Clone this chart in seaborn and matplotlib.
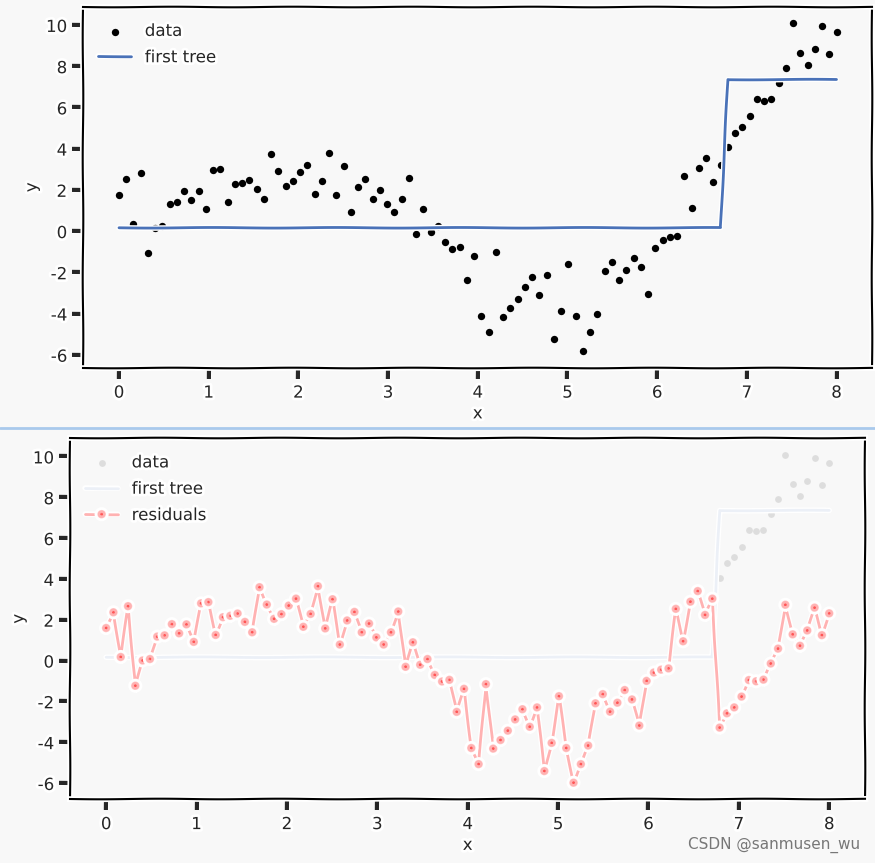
import numpy as np
import pandas as pd
import seaborn as sns
import matplotlib.pyplot as plt
from matplotlib.lines import Line2D

# 100 evenly spaced samples on [0, 8]
x = np.linspace(0, 8, 100)
y = [1.75, 2.52, 0.33, 2.82, -1.08, 0.16, 0.23, 1.33, 1.39, 1.94,
     1.49, 1.93, 1.07, 2.96, 3.02, 1.41, 2.28, 2.35, 2.46, 2.05,
     1.54, 3.75, 2.90, 2.20, 2.43, 2.85, 3.19, 1.81, 2.44, 3.80,
     1.73, 3.16, 0.94, 2.12, 2.54, 1.54, 1.97, 1.29, 0.94, 1.54,
     2.56, -0.15, 1.05, -0.05, 0.23, -0.55, -0.87, -0.79, -2.36, -1.23,
     -4.13, -4.92, -1.00, -4.16, -3.74, -3.28, -2.73, -2.23, -3.09, -2.14,
     -5.26, -3.88, -1.59, -4.13, -5.83, -4.92, -4.01, -1.94, -1.49, -2.35,
     -1.91, -1.29, -1.75, -3.03, -0.84, -0.43, -0.29, -0.23, 2.69, 1.10,
     3.04, 3.56, 2.39, 3.19, 4.06, 4.76, 5.05, 5.58, 6.39, 6.33,
     6.41, 7.20, 7.93, 10.08, 8.63, 8.07, 8.82, 9.94, 8.59, 9.66]

# depth-1 tree: split point and the two leaf values
tree_split = 6.75
tree_leaves = [0.16, 7.35]

df = pd.DataFrame({"x": x, "y": y})
df["tree"] = np.where(df["x"] < tree_split, tree_leaves[0], tree_leaves[1])
df["resid"] = df["y"] - df["tree"]

bg = "#f8f8f8"
sns.set_style("ticks")
plt.xkcd(scale=0.3, length=120, randomness=1)
plt.rcParams["font.family"] = ["DejaVu Sans"]
plt.rcParams["font.size"] = 12

fig = plt.figure(figsize=(8.75, 8.63), dpi=100, facecolor=bg)

# ---- top panel: data + first tree
ax1 = fig.add_axes([0.095, 0.574, 0.902, 0.418])
ax1.set_facecolor(bg)
sns.scatterplot(data=df, x="x", y="y", color="k", s=28, linewidth=0,
                label="data", ax=ax1)
sns.lineplot(data=df, x="x", y="tree", color="#4a72b8", lw=2,
             label="first tree", ax=ax1)

# ---- bottom panel: faded data/tree + residuals
ax2 = fig.add_axes([0.08, 0.074, 0.909, 0.418])
ax2.set_facecolor(bg)
sns.scatterplot(data=df, x="x", y="y", color="gray", s=24, linewidth=0,
                alpha=0.22, label="data", ax=ax2)
sns.lineplot(data=df, x="x", y="tree", color="#4a72b8", lw=2, alpha=0.1,
             label="first tree", ax=ax2)
sns.lineplot(data=df, x="x", y="resid", color="red", lw=2, alpha=0.3,
             marker="o", markersize=6, label="residuals", ax=ax2)

for ax in (ax1, ax2):
    ax.set_xticks(range(0, 9))
    ax.set_yticks(range(-6, 11, 2))
    ax.set_xlabel("x", fontsize=12, labelpad=2)
    ax.set_ylabel("y", fontsize=12)
    ax.tick_params(labelsize=12)
    ax.legend(loc="upper left", frameon=False, fontsize=12)

# separator between the two screenshots
sep = Line2D([0, 1], [0.504, 0.504], transform=fig.transFigure,
             color="#a9c9ec", lw=2)
sep.set_sketch_params(None)
sep.set_path_effects([])
fig.add_artist(sep)

fig.text(0.983, 0.012, "CSDN @sanmusen_wu", ha="right", va="bottom",
         color="#777777", fontsize=11, path_effects=[])

fig.savefig("out.png", dpi=100, facecolor=bg)
